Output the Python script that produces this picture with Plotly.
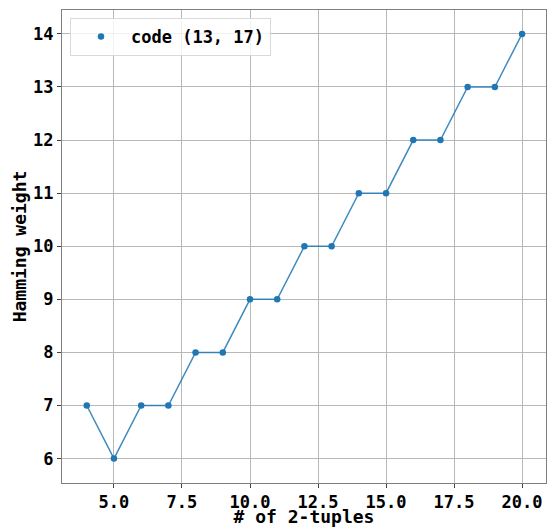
import plotly.graph_objects as go

x_vals = [4, 5, 6, 7, 8, 9, 10, 11, 12, 13, 14, 15, 16, 17, 18, 19, 20]
y_vals = [7, 6, 7, 7, 8, 8, 9, 9, 10, 10, 11, 11, 12, 12, 13, 13, 14]
series_name = "code (13, 17)"
x_ticks = [5.0, 7.5, 10.0, 12.5, 15.0, 17.5, 20.0]
x_tick_labels = ["5.0", "7.5", "10.0", "12.5", "15.0", "17.5", "20.0"]
y_ticks = [6, 7, 8, 9, 10, 11, 12, 13, 14]

FONT = "DejaVu Sans Mono"
color = "#1f77b4"
FS_TICK = 17
FS_TITLE = 18

fig = go.Figure()
fig.add_trace(go.Scatter(
    x=x_vals, y=y_vals, mode="lines", showlegend=False,
    line=dict(color=color, width=1.5), opacity=0.85,
))
fig.add_trace(go.Scatter(
    x=x_vals, y=y_vals, mode="markers", name=series_name,
    marker=dict(color=color, size=6.5),
))

axis_common = dict(
    showgrid=True, gridcolor="#b8b8b8", gridwidth=0.8,
    showline=True, linecolor="#808080", linewidth=1, mirror=True,
    ticks="outside", ticklen=4, tickcolor="#444", zeroline=False,
    automargin=False,
    tickfont=dict(family=FONT, size=FS_TICK, color="black", weight="bold"),
)

fig.update_layout(
    width=547, height=527,
    margin=dict(l=62, r=1, t=10, b=44),
    paper_bgcolor="white", plot_bgcolor="white",
    font=dict(family=FONT, color="black"),
    showlegend=True,
    legend=dict(
        x=0.0165, y=0.983, xanchor="left", yanchor="top",
        bgcolor="rgba(255,255,255,0.8)", bordercolor="#d9d9d9", borderwidth=1,
        font=dict(family=FONT, size=FS_TICK, color="black", weight="bold"),
        itemwidth=50,
    ),
    xaxis=dict(
        range=[3.09, 20.88], tickvals=x_ticks, ticktext=x_tick_labels,
        title=dict(text="# of 2-tuples", standoff=3,
                   font=dict(family=FONT, size=FS_TITLE, color="black", weight="bold")),
        **axis_common,
    ),
    yaxis=dict(
        range=[5.54, 14.45], tickvals=y_ticks,
        title=dict(text="Hamming weight", standoff=1,
                   font=dict(family=FONT, size=FS_TITLE, color="black", weight="bold")),
        **axis_common,
    ),
)

fig.write_html(
    "out.html",
    config={"displayModeBar": False},
    post_script="document.body.style.margin='0';document.body.style.overflow='hidden';",
)
